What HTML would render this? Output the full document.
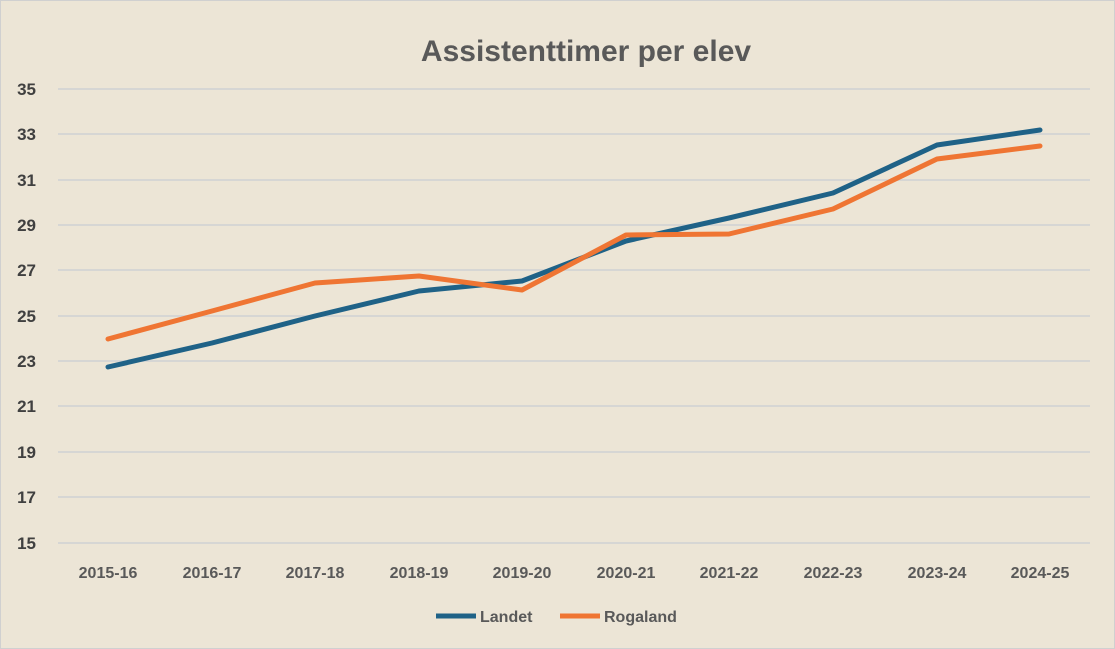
<!DOCTYPE html>
<html><head><style>
body{margin:0;background:#fff}
svg{display:block}
</style></head><body>
<svg width="1115" height="649" xmlns="http://www.w3.org/2000/svg" font-family="Liberation Sans, sans-serif">
<rect x="0" y="0" width="1115" height="649" fill="#ece5d6" stroke="#d0d0d0" stroke-width="2"/>
<text x="586" y="61" text-anchor="middle" font-size="30" font-weight="bold" fill="#595959">Assistenttimer per elev</text>
<g stroke="#d6d6d4" stroke-width="2">
<line x1="58" x2="1090" y1="89" y2="89"/><line x1="58" x2="1090" y1="134" y2="134"/>
<line x1="58" x2="1090" y1="180" y2="180"/><line x1="58" x2="1090" y1="225" y2="225"/>
<line x1="58" x2="1090" y1="270" y2="270"/><line x1="58" x2="1090" y1="316" y2="316"/>
<line x1="58" x2="1090" y1="361" y2="361"/><line x1="58" x2="1090" y1="406" y2="406"/>
<line x1="58" x2="1090" y1="452" y2="452"/><line x1="58" x2="1090" y1="497" y2="497"/>
<line x1="58" x2="1090" y1="543" y2="543"/>
</g>
<g font-size="17" font-weight="bold" fill="#404040" text-anchor="end">
<text x="36" y="95">35</text><text x="36" y="140">33</text><text x="36" y="186">31</text>
<text x="36" y="231">29</text><text x="36" y="276">27</text><text x="36" y="322">25</text>
<text x="36" y="367">23</text><text x="36" y="412">21</text><text x="36" y="458">19</text>
<text x="36" y="503">17</text><text x="36" y="549">15</text>
</g>
<g font-size="16" font-weight="bold" fill="#595959" text-anchor="middle">
<text x="108" y="578">2015-16</text><text x="212" y="578">2016-17</text><text x="315" y="578">2017-18</text>
<text x="419" y="578">2018-19</text><text x="522" y="578">2019-20</text><text x="626" y="578">2020-21</text>
<text x="729" y="578">2021-22</text><text x="833" y="578">2022-23</text><text x="937" y="578">2023-24</text>
<text x="1040" y="578">2024-25</text>
</g>
<polyline fill="none" stroke="#1f6287" stroke-width="5" stroke-linejoin="round" stroke-linecap="round"
points="108,367 212,343 315,316 419,291 522,281 626,241 729,218 833,193 937,145 1040,130"/>
<polyline fill="none" stroke="#ef7533" stroke-width="5" stroke-linejoin="round" stroke-linecap="round"
points="108,339 212,311 315,283 419,276 522,290 626,235 729,234 833,209 937,159 1040,146"/>
<line x1="436" x2="476" y1="616" y2="616" stroke="#1f6287" stroke-width="5"/>
<text x="480" y="622" font-size="16" font-weight="bold" fill="#595959">Landet</text>
<line x1="560" x2="600" y1="616" y2="616" stroke="#ef7533" stroke-width="5"/>
<text x="604" y="622" font-size="16" font-weight="bold" fill="#595959">Rogaland</text>
</svg>
</body></html>
